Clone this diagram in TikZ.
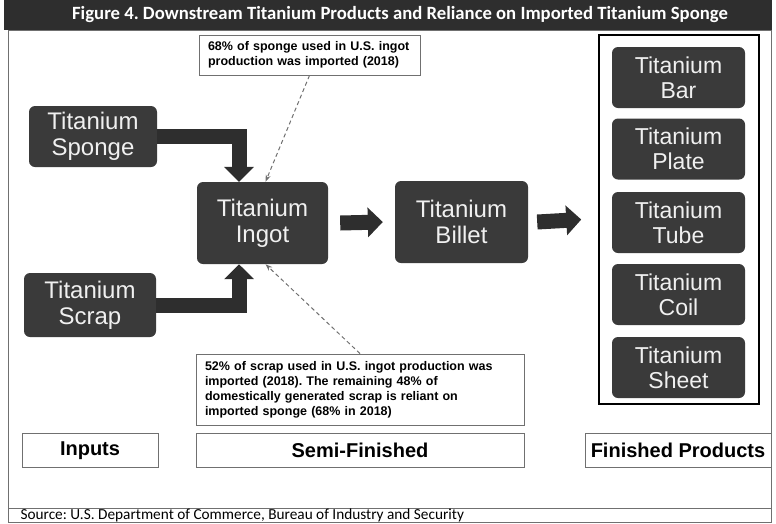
\documentclass[tikz,border=0pt]{standalone}
\usepackage{fontspec}
\setmainfont{Liberation Sans}
\newfontfamily\calibri{Carlito}
\usetikzlibrary{arrows.meta}
\definecolor{boxgray}{HTML}{3A3A3A}
\definecolor{boxtext}{HTML}{F0F0F0}
\definecolor{arrowgray}{HTML}{2E2E2E}
\definecolor{notegray}{HTML}{707070}
\frenchspacing

\begin{document}
\begin{tikzpicture}[x=1pt,y=-1pt,
  tibox/.style={fill=boxgray, rounded corners=6pt, text=boxtext, align=center, inner sep=0pt, font=\fontsize{24}{26}\selectfont},
  notebox/.style={draw=notegray, line width=0.8pt, fill=white, align=left, inner xsep=9pt, inner ysep=0pt, font=\bfseries\fontsize{12.5}{15}\selectfont},
  stagebox/.style={draw=notegray, line width=0.8pt, minimum height=34pt, inner sep=0pt, font=\bfseries\fontsize{20}{22}\selectfont},
  flow/.style={draw=arrowgray, line width=15pt, -{Triangle[length=15pt,width=29pt]}},
  note/.style={draw=notegray, line width=1pt, dash pattern=on 4pt off 3pt, -{Stealth[length=7pt,width=5pt]}}]
\useasboundingbox (0,0) rectangle (776,523);
\fill[arrowgray] (4,0) rectangle (772,30);
\node[text=white, font=\calibri\bfseries\fontsize{18.7}{20}\selectfont] (title) at (400,15) {Figure 4. Downstream Titanium Products and Reliance on Imported Titanium Sponge};
\draw[notegray, line width=0.8pt] (8,30) rectangle (771,522);
\draw[notegray, line width=0.8pt] (8,508) -- (771,508);
\node[anchor=west, font=\calibri\fontsize{15.3}{17}\selectfont] (source) at (17,515) {Source: U.S. Department of Commerce, Bureau of Industry and Security};

\node[tibox, minimum width=128pt, minimum height=61pt] (sponge) at (93,136.5) {Titanium\\Sponge};
\node[tibox, minimum width=132pt, minimum height=64pt] (scrap) at (90,305) {Titanium\\Scrap};
\node[tibox, minimum width=131pt, minimum height=82pt] (ingot) at (262.5,223) {Titanium\\Ingot};
\node[tibox, minimum width=133pt, minimum height=82pt] (billet) at (461.5,222) {Titanium\\Billet};

\node[draw=black, line width=1.5pt, minimum width=160pt, minimum height=369pt] (frame) at (679,219.5) {};
\node[tibox, minimum width=133pt, minimum height=61pt, font=\fontsize{23}{25}\selectfont] (bar) at (678.5,77.5) {Titanium\\Bar};
\node[tibox, minimum width=133pt, minimum height=61pt, font=\fontsize{23}{25}\selectfont] (plate) at (678.5,149) {Titanium\\Plate};
\node[tibox, minimum width=133pt, minimum height=61pt, font=\fontsize{23}{25}\selectfont] (tube) at (678.5,222.5) {Titanium\\Tube};
\node[tibox, minimum width=133pt, minimum height=61pt, font=\fontsize{23}{25}\selectfont] (coil) at (678.5,294.5) {Titanium\\Coil};
\node[tibox, minimum width=133pt, minimum height=61pt, font=\fontsize{23}{25}\selectfont] (sheet) at (678.5,367.5) {Titanium\\Sheet};

\node[notebox, text width=203pt, minimum height=40pt] (topnote) at (309.5,55) {68\% of sponge used in U.S. ingot\\production was imported (2018)};
\node[notebox, text width=310pt, minimum height=71pt] (botnote) at (360,389.5) {52\% of scrap used in U.S. ingot production was\\imported (2018). The remaining 48\% of\\domestically generated scrap is reliant on\\imported sponge (68\% in 2018)};

\node[stagebox, minimum width=136pt] (inputs) at (90,450.5) {Inputs};
\node[stagebox, minimum width=328pt] (semi) at (360,450.5) {Semi-Finished};
\node[stagebox, minimum width=186pt] (finished) at (678,450.5) {Finished Products};

\draw[flow] (sponge.east) -| ([xshift=-23.5pt]ingot.north);
\draw[flow] (scrap.east) -| ([xshift=-23.5pt]ingot.south);
\draw[flow] ([xshift=12pt]ingot.east) -- ([xshift=-12pt]billet.west);
\draw[flow] ([xshift=9pt]billet.east) -- ([xshift=-17pt]frame.west);
\draw[note] (topnote.south) -- ([xshift=3pt]ingot.north);
\draw[note] (botnote.north) -- ([xshift=3pt]ingot.south);
\end{tikzpicture}
\end{document}
